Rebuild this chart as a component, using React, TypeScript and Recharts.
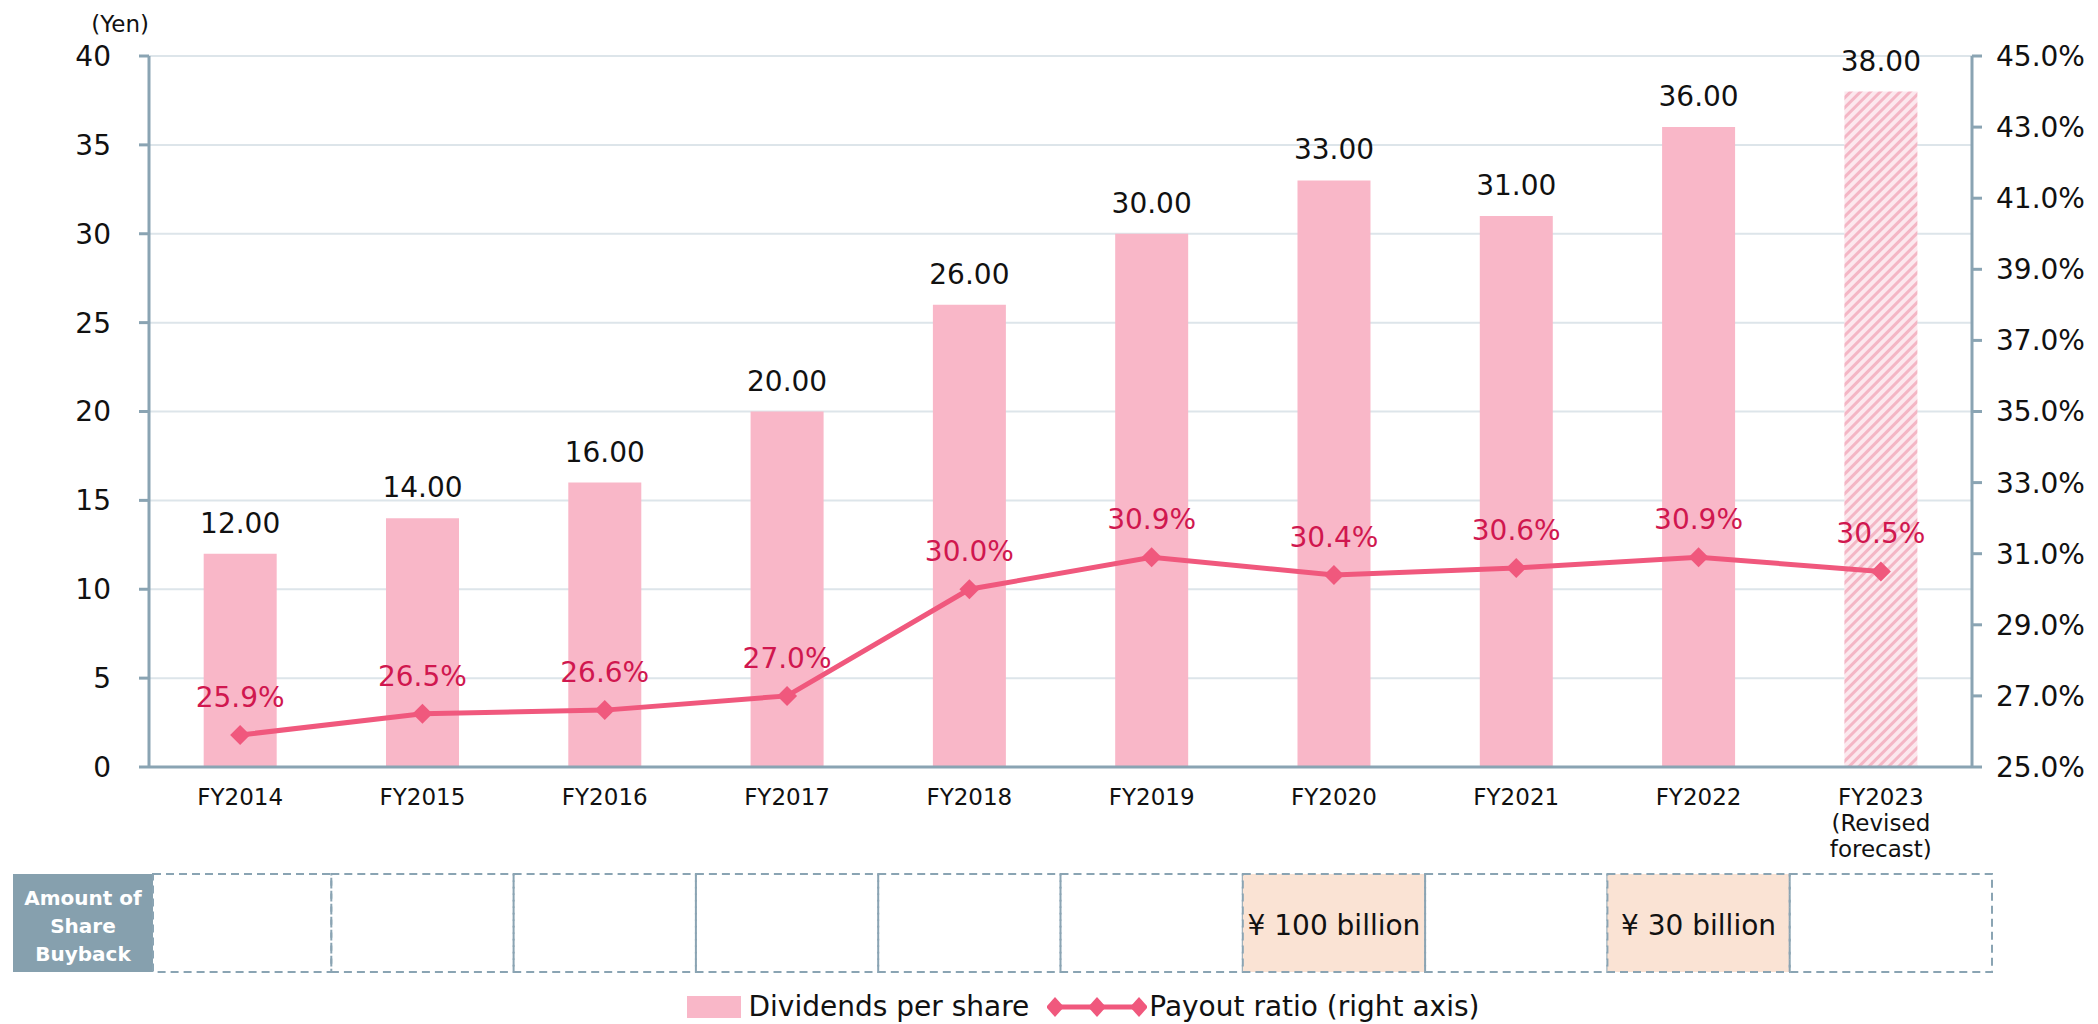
import React from "react";
import {
  Bar,
  CartesianGrid,
  Cell,
  ComposedChart,
  LabelList,
  Legend,
  Line,
  XAxis,
  YAxis,
} from "recharts";

const years = ["FY2014", "FY2015", "FY2016", "FY2017", "FY2018", "FY2019", "FY2020", "FY2021", "FY2022", "FY2023"];
const yearNotes = ["", "", "", "", "", "", "", "", "", "(Revised\nforecast)"];
const dividends = [12, 14, 16, 20, 26, 30, 33, 31, 36, 38];
const payoutRatio = [25.9, 26.5, 26.6, 27.0, 30.0, 30.9, 30.4, 30.6, 30.9, 30.5];
const buyback = ["", "", "", "", "", "", "¥ 100 billion", "", "¥ 30 billion", ""];
const forecastIndex = 9;

const yenTicks = [0, 5, 10, 15, 20, 25, 30, 35, 40];
const ratioTicks = [25, 27, 29, 31, 33, 35, 37, 39, 41, 43, 45];

const FONT = "'DejaVu Sans', Verdana, sans-serif";
const AXIS = "#8aa4b3";
const BAR = "#f9b7c8";
const LINE = "#f0587d";
const RED_TEXT = "#d0174f";

const data = years.map((year, i) => ({
  year,
  dividend: dividends[i],
  ratio: payoutRatio[i],
}));

function Diamond(props: any) {
  const { cx, cy } = props;
  if (cx == null || cy == null) return null;
  const r = 10;
  return <polygon points={`${cx},${cy - r} ${cx + r},${cy} ${cx},${cy + r} ${cx - r},${cy}`} fill={LINE} />;
}

function YearTick(props: any) {
  const { x, y, payload, index } = props;
  const bw = (props.width ?? 1823) / years.length;
  const note = yearNotes[index] ? yearNotes[index].split("\n") : [];
  const top = y + 107;
  const h = 98;
  let left = x - bw / 2;
  let right = x + bw / 2;
  if (index === 0) left += 4;
  if (index === years.length - 1) right += 20;
  const amount = buyback[index];
  return (
    <g>
      <text x={x} y={y + 38} textAnchor="middle" fontSize={23} fill="#111" fontFamily={FONT}>
        {payload.value}
      </text>
      {note.map((t, k) => (
        <text key={k} x={x} y={y + 64 + k * 26} textAnchor="middle" fontSize={23} fill="#111" fontFamily={FONT}>
          {t}
        </text>
      ))}
      {index === 0 && (
        <g>
          <rect x={left - 140} y={top} width={140} height={h} fill="#86a0ae" />
          {["Amount of", "Share", "Buyback"].map((t, k) => (
            <text
              key={t}
              x={left - 70}
              y={top + 31 + k * 28}
              textAnchor="middle"
              fontSize={20}
              fontWeight="bold"
              fill="#fff"
              fontFamily={FONT}
            >
              {t}
            </text>
          ))}
        </g>
      )}
      <rect
        x={left}
        y={top}
        width={right - left}
        height={h}
        fill={amount ? "#fae3d4" : "none"}
        stroke={AXIS}
        strokeWidth={2}
        strokeDasharray="8 5"
      />
      {amount && (
        <text x={(left + right) / 2} y={top + 61} textAnchor="middle" fontSize={28} fill="#111" fontFamily={FONT}>
          {amount}
        </text>
      )}
    </g>
  );
}

function LegendContent() {
  return (
    <div
      style={{
        display: "flex",
        justifyContent: "center",
        alignItems: "center",
        fontFamily: FONT,
        fontSize: 28,
        color: "#111",
      }}
    >
      <span style={{ display: "inline-block", width: 54, height: 22, background: BAR, marginRight: 8 }} />
      <span style={{ marginRight: 18 }}>Dividends per share</span>
      <svg width={100} height={24} style={{ marginRight: 2 }}>
        <line x1={6} y1={12} x2={94} y2={12} stroke={LINE} strokeWidth={5} />
        {[8, 50, 92].map((cx) => (
          <polygon key={cx} points={`${cx},2 ${cx + 9},12 ${cx},22 ${cx - 9},12`} fill={LINE} />
        ))}
      </svg>
      <span>Payout ratio (right axis)</span>
    </div>
  );
}

export default function App() {
  return (
    <div style={{ position: "absolute", left: 0, top: 0, width: 2098, height: 1024, background: "#fff" }}>
      <ComposedChart
        width={2098}
        height={1024}
        data={data}
        margin={{ top: 56, right: 0, bottom: 0, left: 0 }}
        barCategoryGap="30%"
        style={{ fontFamily: FONT }}
      >
        <defs>
          <pattern id="hatch" patternUnits="userSpaceOnUse" width={7} height={7} patternTransform="rotate(45)">
            <rect width={7} height={7} fill="#fce8ee" />
            <rect width={3} height={7} fill="#f4b6c5" />
          </pattern>
        </defs>
        <CartesianGrid vertical={false} stroke="#dde5ea" strokeWidth={2} yAxisId="left" />
        <XAxis
          dataKey="year"
          height={257}
          tickLine={false}
          tickSize={0}
          tickMargin={0}
          axisLine={{ stroke: AXIS, strokeWidth: 3 }}
          tick={<YearTick />}
          interval={0}
        />
        <YAxis
          yAxisId="left"
          width={149}
          domain={[0, 40]}
          ticks={yenTicks}
          tickSize={10}
          tickMargin={28}
          axisLine={{ stroke: AXIS, strokeWidth: 3 }}
          tickLine={{ stroke: AXIS, strokeWidth: 3 }}
          tick={{ fontSize: 28, fill: "#111", fontFamily: FONT }}
          label={{
            content: (p: any) => (
              <text
                x={p.viewBox.x + p.viewBox.width}
                y={p.viewBox.y - 24}
                textAnchor="end"
                fontSize={23}
                fill="#111"
                fontFamily={FONT}
              >
                (Yen)
              </text>
            ),
          }}
        />
        <YAxis
          yAxisId="right"
          orientation="right"
          width={126}
          domain={[25, 45]}
          ticks={ratioTicks}
          tickSize={10}
          tickMargin={14}
          axisLine={{ stroke: AXIS, strokeWidth: 3 }}
          tickLine={{ stroke: AXIS, strokeWidth: 3 }}
          tick={{ fontSize: 28, fill: "#111", fontFamily: FONT, textAnchor: "start" }}
          tickFormatter={(v: number) => v.toFixed(1) + "%"}
        />
        <Legend
          layout="horizontal"
          verticalAlign="middle"
          align="center"
          wrapperStyle={{ top: 990, left: 34, width: 2098 }}
          content={<LegendContent />}
        />
        <Bar yAxisId="left" dataKey="dividend" name="Dividends per share" fill={BAR} isAnimationActive={false}>
          {data.map((d, i) => (
            <Cell key={d.year} fill={i === forecastIndex ? "url(#hatch)" : BAR} />
          ))}
          <LabelList
            dataKey="dividend"
            position="top"
            offset={21}
            fill="#111"
            fontSize={28}
            fontFamily={FONT}
            formatter={(v: any) => Number(v).toFixed(2)}
          />
        </Bar>
        <Line
          yAxisId="right"
          dataKey="ratio"
          name="Payout ratio (right axis)"
          type="linear"
          stroke={LINE}
          strokeWidth={5}
          dot={<Diamond />}
          activeDot={false}
          isAnimationActive={false}
        >
          <LabelList
            dataKey="ratio"
            position="top"
            offset={28}
            fill={RED_TEXT}
            fontSize={28}
            fontFamily={FONT}
            formatter={(v: any) => Number(v).toFixed(1) + "%"}
          />
        </Line>
      </ComposedChart>
    </div>
  );
}
